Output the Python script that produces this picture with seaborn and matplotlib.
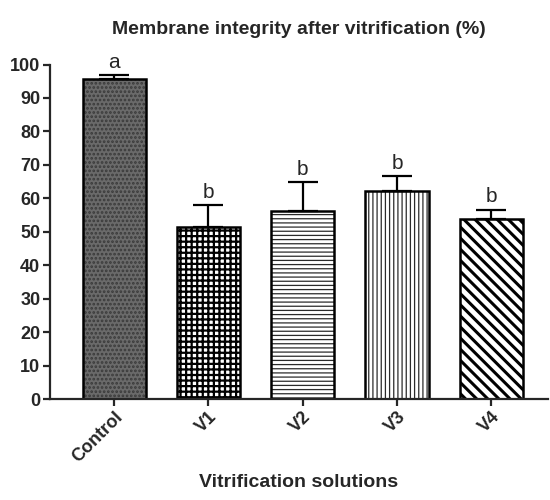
import numpy as np
import pandas as pd
import matplotlib
matplotlib.use('Agg')
import matplotlib.pyplot as plt
import seaborn as sns

# Datos
grupos = ['Control', 'V1', 'V2', 'V3', 'V4']
integridad = [95.8, 51.3, 56.3, 62.2, 53.7]
error = [1.1, 6.6, 8.5, 4.5, 2.9]
letras = ['a', 'b', 'b', 'b', 'b']

# Estilos de cada barra (relleno, tramado, color y grosor del tramado)
rellenos = ['#6a6a6a', 'white', 'white', 'white', 'white']
tramas = ['....', '+++', '----', '||||', '\\\\\\']
colores_trama = ['#3a3a3a', 'black', '#2a2a2a', '#2a2a2a', 'black']
grosor_trama = [1.3, 1.6, 0.9, 0.9, 2.2]

df = pd.DataFrame({'grupo': grupos, 'valor': integridad})

sns.set_style('ticks')
plt.rcParams['font.family'] = ['Liberation Sans', 'DejaVu Sans']

fig = plt.figure(figsize=(5.5, 5), dpi=100)
ax = fig.add_axes([0.091, 0.202, 0.905, 0.669])

# Barras con tramado
sns.barplot(data=df, x='grupo', y='valor', errorbar=None, width=0.67,
            linewidth=0, ax=ax)
for i, p in enumerate(ax.patches):
    p.set_facecolor(rellenos[i])
    p.set_edgecolor(colores_trama[i])
    p.set_hatch(tramas[i])
    p.set_linewidth(0)
    if hasattr(p, 'set_hatch_linewidth'):
        p.set_hatch_linewidth(grosor_trama[i])
    else:
        p._hatch_linewidth = grosor_trama[i]

# Contorno negro encima
sns.barplot(data=df, x='grupo', y='valor', errorbar=None, width=0.67,
            fill=False, color='black', linewidth=1.8, ax=ax)

# Barras de error (solo hacia arriba)
x = np.arange(len(grupos))
ax.errorbar(x, integridad, yerr=[np.zeros(len(error)), error], fmt='none',
            ecolor='black', elinewidth=1.6, capsize=11, capthick=1.6)

# Letras de significancia
for xi, v, e, l in zip(x, integridad, error, letras):
    ax.text(xi, v + e + 1.0, l, ha='center', va='bottom', fontsize=15)

ax.set_ylim(0, 100)
ax.set_xlim(-0.68, 4.6)
ax.set_yticks(range(0, 101, 10))
ax.set_title('Membrane integrity after vitrification (%)', fontsize=14,
             fontweight='bold', pad=22)
ax.set_xlabel('Vitrification solutions', fontsize=14, fontweight='bold',
              labelpad=6)
ax.set_ylabel('')
sns.despine(ax=ax)
for s in ['left', 'bottom']:
    ax.spines[s].set_linewidth(1.6)
ax.tick_params(axis='both', width=1.6, length=5, labelsize=13, pad=2)
plt.setp(ax.get_yticklabels(), fontweight='bold')
plt.setp(ax.get_xticklabels(), fontweight='bold', rotation=45, ha='right',
         rotation_mode='anchor')

plt.savefig('out.png', dpi=100)
